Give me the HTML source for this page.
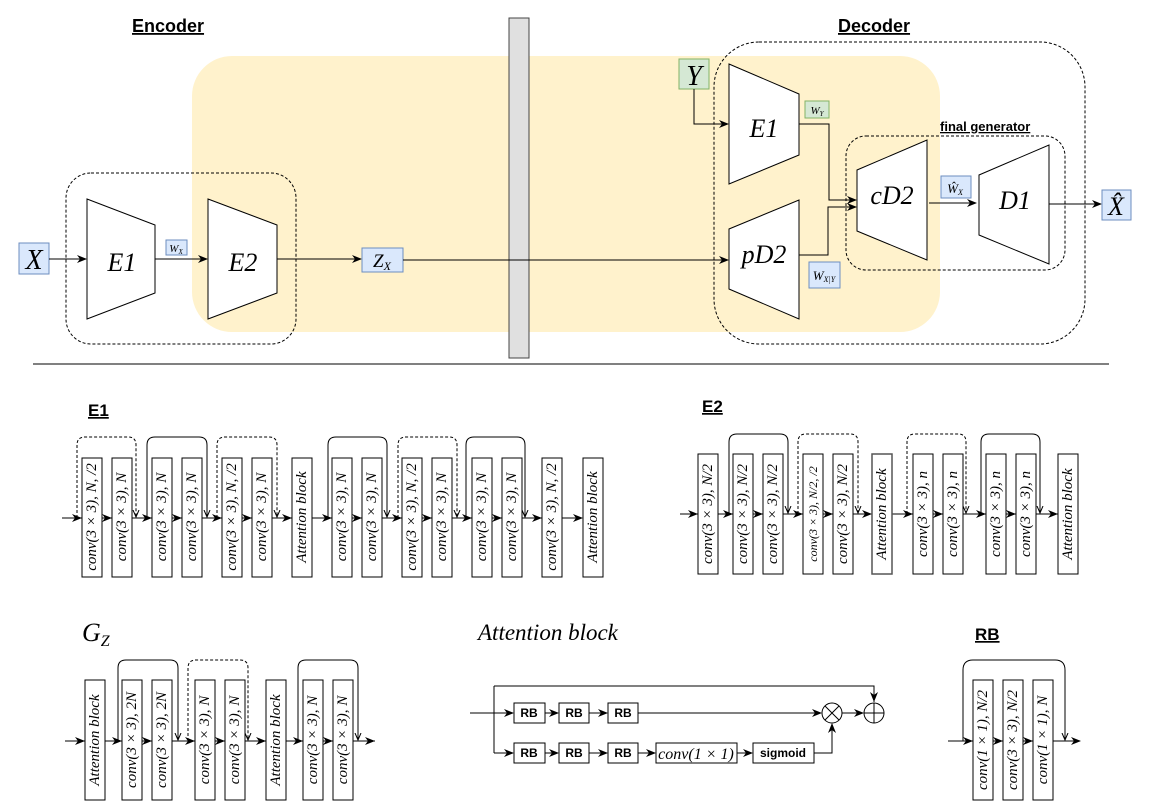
<!DOCTYPE html>
<html><head><meta charset="utf-8"><style>
body{margin:0;background:#fff}
svg{display:block}
.b{fill:#fff;stroke:#000;stroke-width:1}
.v{font-family:"Liberation Serif",serif;font-style:italic;font-size:15px}
.l{stroke:#000;stroke-width:1;fill:none}
.d{stroke:#000;stroke-width:1;fill:none;stroke-dasharray:3,2}
.h{font-family:"Liberation Sans",sans-serif;font-weight:bold;text-decoration:underline}
.m{font-family:"Liberation Serif",serif;font-style:italic}
</style></head><body>
<svg width="1172" height="806" viewBox="0 0 1172 806" xmlns="http://www.w3.org/2000/svg">
<defs>
<marker id="a" markerWidth="10" markerHeight="8" refX="9" refY="4" orient="auto" markerUnits="userSpaceOnUse"><path d="M0,0 L10,4 L0,8 L3,4 z" fill="#000"/></marker>
<marker id="o" markerWidth="8" markerHeight="8" refX="7" refY="4" orient="auto" markerUnits="userSpaceOnUse"><path d="M0,1 L7,4 L0,7" fill="none" stroke="#000"/></marker>
</defs>
<!-- TOP -->
<rect x="192" y="56" width="748" height="276" rx="40" fill="#fff2cc"/>
<text x="132" y="32" class="h" font-size="18">Encoder</text>
<text x="838" y="32" class="h" font-size="18">Decoder</text>
<rect x="66" y="173" width="230" height="171" rx="25" class="d"/>
<rect x="714" y="42" width="371" height="302" rx="45" class="d"/>
<rect x="509" y="18" width="20" height="340" fill="#e0e0e0" stroke="#444"/>
<rect x="19" y="243" width="30" height="31" fill="#dae8fc" stroke="#6c8ebf"/>
<text x="34" y="269" class="m" font-size="28" text-anchor="middle">X</text>
<path d="M87,199 L155,225 L155,293 L87,319 Z" class="b"/>
<text x="122" y="271" class="m" font-size="26" text-anchor="middle">E1</text>
<rect x="166" y="240" width="21" height="15" fill="#dae8fc" stroke="#6c8ebf"/>
<text x="176" y="252" class="m" font-size="11" text-anchor="middle">W<tspan font-size="7" dy="2">X</tspan></text>
<path d="M208,199 L277,225 L277,293 L208,319 Z" class="b"/>
<text x="243" y="271" class="m" font-size="26" text-anchor="middle">E2</text>
<path d="M49,259 H86" class="l" marker-end="url(#a)"/>
<path d="M155,259 H207" class="l" marker-end="url(#a)"/>
<path d="M277,259 H361" class="l" marker-end="url(#a)"/>
<rect x="362" y="248" width="41" height="24" fill="#dae8fc" stroke="#6c8ebf"/>
<text x="382" y="267" class="m" font-size="19" text-anchor="middle">Z<tspan font-size="12" dy="3">X</tspan></text>
<path d="M403,260 H728" class="l" marker-end="url(#a)"/>
<rect x="679" y="59" width="30" height="30" fill="#d5e8d4" stroke="#82b366"/>
<text x="694" y="85" class="m" font-size="28" text-anchor="middle">Y</text>
<path d="M694,89 V124 H728" class="l" marker-end="url(#a)"/>
<path d="M729,64 L799,94 L799,155 L729,184 Z" class="b"/>
<text x="764" y="137" class="m" font-size="26" text-anchor="middle">E1</text>
<rect x="805" y="101" width="24" height="17" fill="#d5e8d4" stroke="#82b366"/>
<text x="817" y="114" class="m" font-size="11" text-anchor="middle">W<tspan font-size="7" dy="2">Y</tspan></text>
<path d="M729,229 L799,200 L799,319 L729,289 Z" class="b"/>
<text x="764" y="263" class="m" font-size="26" text-anchor="middle">pD2</text>
<rect x="809" y="262" width="31" height="26" fill="#dae8fc" stroke="#6c8ebf"/>
<text x="824" y="280" class="m" font-size="13" text-anchor="middle">W<tspan font-size="8" dy="2">X|Y</tspan></text>
<path d="M799,124 H829 V200 H856" class="l" marker-end="url(#a)"/>
<path d="M799,255 H828 V207 H856" class="l" marker-end="url(#a)"/>
<text x="940" y="131" class="h" font-size="13">final generator</text>
<rect x="846" y="136" width="219" height="134" rx="20" class="d"/>
<path d="M857,170 L927,140 L927,260 L857,231 Z" class="b"/>
<text x="892" y="204" class="m" font-size="26" text-anchor="middle">cD2</text>
<rect x="941" y="176" width="30" height="22" fill="#dae8fc" stroke="#6c8ebf"/>
<text x="955" y="193" class="m" font-size="13" text-anchor="middle">Ŵ<tspan font-size="8" dy="2">X</tspan></text>
<path d="M929,203 H976" class="l" marker-end="url(#a)"/>
<path d="M979,175 L1049,145 L1049,264 L979,235 Z" class="b"/>
<text x="1015" y="209" class="m" font-size="26" text-anchor="middle">D1</text>
<path d="M1049,204 H1101" class="l" marker-end="url(#a)"/>
<rect x="1102" y="190" width="29" height="30" fill="#dae8fc" stroke="#6c8ebf"/>
<text x="1116" y="215" class="m" font-size="26" text-anchor="middle">X̂</text>
<line x1="33" y1="364" x2="1109" y2="364" stroke="#000"/>

<!-- E1 -->
<text x="88" y="416" class="h" font-size="17">E1</text>
<path d="M62,518H582" class="l"/>
<g class="l">
<path d="M62,518H81" marker-end="url(#a)"/><path d="M102,518H111" marker-end="url(#a)"/><path d="M132,518H151" marker-end="url(#a)"/><path d="M172,518H181" marker-end="url(#a)"/><path d="M202,518H221" marker-end="url(#a)"/><path d="M242,518H251" marker-end="url(#a)"/><path d="M272,518H291" marker-end="url(#a)"/><path d="M312,518H331" marker-end="url(#a)"/><path d="M352,518H361" marker-end="url(#a)"/><path d="M382,518H401" marker-end="url(#a)"/><path d="M422,518H431" marker-end="url(#a)"/><path d="M452,518H471" marker-end="url(#a)"/><path d="M492,518H501" marker-end="url(#a)"/><path d="M522,518H541" marker-end="url(#a)"/><path d="M562,518H582" marker-end="url(#a)"/>
</g>
<g class="v">
<g class="b"><rect x="82" y="458" width="20" height="119"/><rect x="112" y="458" width="20" height="119"/><rect x="152" y="458" width="20" height="119"/><rect x="182" y="458" width="20" height="119"/><rect x="222" y="458" width="20" height="119"/><rect x="252" y="458" width="20" height="119"/><rect x="292" y="458" width="20" height="119"/><rect x="332" y="458" width="20" height="119"/><rect x="362" y="458" width="20" height="119"/><rect x="402" y="458" width="20" height="119"/><rect x="432" y="458" width="20" height="119"/><rect x="472" y="458" width="20" height="119"/><rect x="502" y="458" width="20" height="119"/><rect x="542" y="458" width="20" height="119"/><rect x="583" y="458" width="20" height="119"/></g>
<text transform="translate(92,517) rotate(-90)" text-anchor="middle" dominant-baseline="central">conv(3 × 3), N, /2</text>
<text transform="translate(122,517) rotate(-90)" text-anchor="middle" dominant-baseline="central">conv(3 × 3), N</text>
<text transform="translate(162,517) rotate(-90)" text-anchor="middle" dominant-baseline="central">conv(3 × 3), N</text>
<text transform="translate(192,517) rotate(-90)" text-anchor="middle" dominant-baseline="central">conv(3 × 3), N</text>
<text transform="translate(232,517) rotate(-90)" text-anchor="middle" dominant-baseline="central">conv(3 × 3), N, /2</text>
<text transform="translate(262,517) rotate(-90)" text-anchor="middle" dominant-baseline="central">conv(3 × 3), N</text>
<text transform="translate(302,517) rotate(-90)" text-anchor="middle" dominant-baseline="central">Attention block</text>
<text transform="translate(342,517) rotate(-90)" text-anchor="middle" dominant-baseline="central">conv(3 × 3), N</text>
<text transform="translate(372,517) rotate(-90)" text-anchor="middle" dominant-baseline="central">conv(3 × 3), N</text>
<text transform="translate(412,517) rotate(-90)" text-anchor="middle" dominant-baseline="central">conv(3 × 3), N, /2</text>
<text transform="translate(442,517) rotate(-90)" text-anchor="middle" dominant-baseline="central">conv(3 × 3), N</text>
<text transform="translate(482,517) rotate(-90)" text-anchor="middle" dominant-baseline="central">conv(3 × 3), N</text>
<text transform="translate(512,517) rotate(-90)" text-anchor="middle" dominant-baseline="central">conv(3 × 3), N</text>
<text transform="translate(552,517) rotate(-90)" text-anchor="middle" dominant-baseline="central">conv(3 × 3), N, /2</text>
<text transform="translate(593,517) rotate(-90)" text-anchor="middle" dominant-baseline="central">Attention block</text>
</g>
<path d="M77,518V445Q77,437 85,437H128Q136,437 136,445V517" class="d" marker-end="url(#o)"/>
<path d="M147,518V445Q147,437 155,437H199Q207,437 207,445V517" class="l" marker-end="url(#o)"/>
<path d="M217,518V445Q217,437 225,437H269Q277,437 277,445V517" class="d" marker-end="url(#o)"/>
<path d="M328,518V445Q328,437 336,437H379Q387,437 387,445V517" class="l" marker-end="url(#o)"/>
<path d="M398,518V445Q398,437 406,437H449Q457,437 457,445V517" class="d" marker-end="url(#o)"/>
<path d="M466,518V445Q466,437 474,437H517Q525,437 525,445V517" class="l" marker-end="url(#o)"/>

<!-- E2 -->
<text x="702" y="412" class="h" font-size="17">E2</text>
<path d="M680,514H1058" class="l"/>
<g class="l">
<path d="M680,514H697" marker-end="url(#a)"/><path d="M718,514H732" marker-end="url(#a)"/><path d="M753,514H762" marker-end="url(#a)"/><path d="M783,514H802" marker-end="url(#a)"/><path d="M823,514H832" marker-end="url(#a)"/><path d="M853,514H871" marker-end="url(#a)"/><path d="M892,514H912" marker-end="url(#a)"/><path d="M933,514H942" marker-end="url(#a)"/><path d="M963,514H985" marker-end="url(#a)"/><path d="M1006,514H1015" marker-end="url(#a)"/><path d="M1036,514H1057" marker-end="url(#a)"/>
</g>
<g class="v">
<g class="b"><rect x="698" y="454" width="20" height="120"/><rect x="733" y="454" width="20" height="120"/><rect x="763" y="454" width="20" height="120"/><rect x="803" y="454" width="20" height="120"/><rect x="833" y="454" width="20" height="120"/><rect x="872" y="454" width="20" height="120" stroke="#555" stroke-width="1.5"/><rect x="913" y="454" width="20" height="120"/><rect x="943" y="454" width="20" height="120"/><rect x="986" y="454" width="20" height="120"/><rect x="1016" y="454" width="20" height="120"/><rect x="1058" y="454" width="20" height="120"/></g>
<text transform="translate(708,514) rotate(-90)" text-anchor="middle" dominant-baseline="central">conv(3 × 3), N/2</text>
<text transform="translate(743,514) rotate(-90)" text-anchor="middle" dominant-baseline="central">conv(3 × 3), N/2</text>
<text transform="translate(773,514) rotate(-90)" text-anchor="middle" dominant-baseline="central">conv(3 × 3), N/2</text>
<text transform="translate(813,514) rotate(-90)" text-anchor="middle" dominant-baseline="central" font-size="12">conv(3 × 3), N/2, /2</text>
<text transform="translate(843,514) rotate(-90)" text-anchor="middle" dominant-baseline="central">conv(3 × 3), N/2</text>
<text transform="translate(882,514) rotate(-90)" text-anchor="middle" dominant-baseline="central">Attention block</text>
<text transform="translate(923,514) rotate(-90)" text-anchor="middle" dominant-baseline="central">conv(3 × 3), n</text>
<text transform="translate(953,514) rotate(-90)" text-anchor="middle" dominant-baseline="central">conv(3 × 3), n</text>
<text transform="translate(996,514) rotate(-90)" text-anchor="middle" dominant-baseline="central">conv(3 × 3), n</text>
<text transform="translate(1026,514) rotate(-90)" text-anchor="middle" dominant-baseline="central">conv(3 × 3), n</text>
<text transform="translate(1068,514) rotate(-90)" text-anchor="middle" dominant-baseline="central">Attention block</text>
</g>
<path d="M729,514V442Q729,434 737,434H780Q788,434 788,442V513" class="l" marker-end="url(#o)"/>
<path d="M798,514V442Q798,434 806,434H850Q858,434 858,442V513" class="d" marker-end="url(#o)"/>
<path d="M907,514V442Q907,434 915,434H958Q966,434 966,442V513" class="d" marker-end="url(#o)"/>
<path d="M981,514V442Q981,434 989,434H1032Q1040,434 1040,442V513" class="l" marker-end="url(#o)"/>

<!-- G_Z -->
<text x="82" y="641" class="m" font-size="26">G<tspan font-size="16" dy="5">Z</tspan></text>
<path d="M65,741H375" class="l"/>
<g class="l">
<path d="M65,741H84" marker-end="url(#a)"/><path d="M105,741H121" marker-end="url(#a)"/><path d="M142,741H151" marker-end="url(#a)"/><path d="M172,741H194" marker-end="url(#a)"/><path d="M215,741H224" marker-end="url(#a)"/><path d="M245,741H265" marker-end="url(#a)"/><path d="M286,741H302" marker-end="url(#a)"/><path d="M323,741H332" marker-end="url(#a)"/><path d="M353,741H374" marker-end="url(#a)"/>
</g>
<g class="v">
<g class="b"><rect x="85" y="680" width="20" height="120"/><rect x="122" y="680" width="20" height="120"/><rect x="152" y="680" width="20" height="120"/><rect x="195" y="680" width="20" height="120"/><rect x="225" y="680" width="20" height="120"/><rect x="266" y="680" width="20" height="120"/><rect x="303" y="680" width="20" height="120"/><rect x="333" y="680" width="20" height="120"/></g>
<text transform="translate(95,740) rotate(-90)" text-anchor="middle" dominant-baseline="central">Attention block</text>
<text transform="translate(132,740) rotate(-90)" text-anchor="middle" dominant-baseline="central">conv(3 × 3), 2N</text>
<text transform="translate(162,740) rotate(-90)" text-anchor="middle" dominant-baseline="central">conv(3 × 3), 2N</text>
<text transform="translate(205,740) rotate(-90)" text-anchor="middle" dominant-baseline="central">conv(3 × 3), N</text>
<text transform="translate(235,740) rotate(-90)" text-anchor="middle" dominant-baseline="central">conv(3 × 3), N</text>
<text transform="translate(276,740) rotate(-90)" text-anchor="middle" dominant-baseline="central">Attention block</text>
<text transform="translate(313,740) rotate(-90)" text-anchor="middle" dominant-baseline="central">conv(3 × 3), N</text>
<text transform="translate(343,740) rotate(-90)" text-anchor="middle" dominant-baseline="central">conv(3 × 3), N</text>
</g>
<path d="M118,741V668Q118,660 126,660H170Q178,660 178,668V740" class="l" marker-end="url(#o)"/>
<path d="M188,741V668Q188,660 196,660H240Q248,660 248,668V740" class="d" marker-end="url(#o)"/>
<path d="M298,741V668Q298,660 306,660H350Q358,660 358,668V740" class="l" marker-end="url(#o)"/>

<!-- Attention block -->
<text x="478" y="640" class="m" font-size="23">Attention block</text>
<path d="M470,713H494M494,686V753M494,686H874V702" class="l"/>
<path d="M874,686V701" class="l" marker-end="url(#a)"/>
<g class="l">
<path d="M494,713H513" marker-end="url(#a)"/><path d="M545,713H558" marker-end="url(#a)"/><path d="M589,713H607" marker-end="url(#a)"/>
<path d="M638,713H821" marker-end="url(#a)"/>
<path d="M842,713H863" marker-end="url(#a)"/>
<path d="M494,753H513" marker-end="url(#a)"/><path d="M545,753H558" marker-end="url(#a)"/><path d="M589,753H607" marker-end="url(#a)"/><path d="M638,753H655" marker-end="url(#a)"/><path d="M737,753H752" marker-end="url(#a)"/>
<path d="M814,753H832V724" marker-end="url(#a)"/>
</g>
<g class="b"><rect x="514" y="703" width="31" height="20"/><rect x="559" y="703" width="30" height="20"/><rect x="608" y="703" width="30" height="20"/><rect x="514" y="743" width="31" height="20"/><rect x="559" y="743" width="30" height="20"/><rect x="608" y="743" width="30" height="20"/><rect x="656" y="743" width="81" height="20"/><rect x="753" y="743" width="61" height="20"/></g>
<g font-family="Liberation Sans,sans-serif" font-weight="bold" font-size="12" text-anchor="middle">
<text x="529" y="717">RB</text><text x="574" y="717">RB</text><text x="623" y="717">RB</text>
<text x="529" y="757">RB</text><text x="574" y="757">RB</text><text x="623" y="757">RB</text>
<text x="783" y="757">sigmoid</text></g>
<text x="696" y="759" class="m" font-size="16" text-anchor="middle">conv(1 × 1)</text>
<circle cx="832" cy="713" r="10" class="b"/><path d="M825,706L839,720M839,706L825,720" class="l"/>
<circle cx="874" cy="713" r="10" class="b"/><path d="M864,713H884M874,703V723" class="l"/>

<!-- RB -->
<text x="975" y="640" class="h" font-size="17">RB</text>
<path d="M948,741H1080" class="l"/>
<g class="l">
<path d="M948,741H972" marker-end="url(#a)"/><path d="M993,741H1002" marker-end="url(#a)"/><path d="M1023,741H1032" marker-end="url(#a)"/><path d="M1053,741H1080" marker-end="url(#a)"/>
</g>
<g class="v">
<g class="b"><rect x="973" y="680" width="20" height="120"/><rect x="1003" y="680" width="20" height="120"/><rect x="1033" y="680" width="20" height="120"/></g>
<text transform="translate(983,740) rotate(-90)" text-anchor="middle" dominant-baseline="central">conv(1 × 1), N/2</text>
<text transform="translate(1013,740) rotate(-90)" text-anchor="middle" dominant-baseline="central">conv(3 × 3), N/2</text>
<text transform="translate(1043,740) rotate(-90)" text-anchor="middle" dominant-baseline="central">conv(1 × 1), N</text>
</g>
<path d="M963,741V670Q963,660 973,660H1055Q1065,660 1065,670V740" class="l" marker-end="url(#o)"/>
</svg>
</body></html>
